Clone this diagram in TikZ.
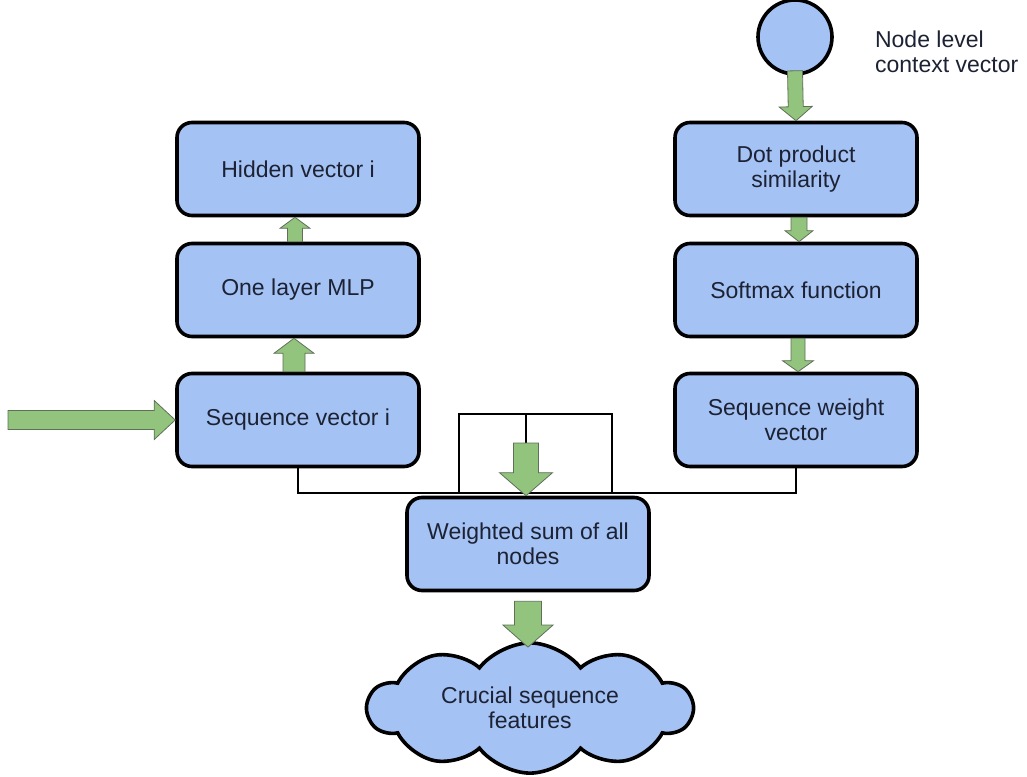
\documentclass[tikz,border=0pt]{standalone}
\usepackage{fontspec}
\setmainfont{Liberation Sans}
\usetikzlibrary{calc,shapes.symbols}
\definecolor{boxblue}{HTML}{A4C2F4}
\definecolor{arrowgreen}{HTML}{93C47D}
\definecolor{arrowrim}{HTML}{5F6F58}
\definecolor{inktext}{HTML}{1C2233}
% fat block arrow: from, to, shaft half width, head half width, head length
\newcommand{\blockarrow}[5]{%
  \coordinate (ba-h) at ($(#2)!#5!(#1)$);
  \filldraw[fatarrow] ($(#1)!#3!90:(#2)$) -- ($(ba-h)!#3!90:(#2)$)
    -- ($(ba-h)!#4!90:(#2)$) -- (#2) -- ($(ba-h)!#4!-90:(#2)$)
    -- ($(ba-h)!#3!-90:(#2)$) -- ($(#1)!#3!-90:(#2)$) -- cycle;
}

\begin{document}
\begin{tikzpicture}[x=0.5pt,y=-0.5pt,font=\fontsize{11.5}{12.5}\selectfont,
  block/.style={draw=black,line width=1.8pt,fill=boxblue,rounded corners=7.5pt,
    minimum width=121pt,minimum height=46.5pt,align=center,text=inktext,inner sep=2pt},
  fatarrow/.style={fill=arrowgreen,draw=arrowrim,line width=0.4pt,line join=miter},
  link/.style={draw=black,line width=1.2pt}]
  \useasboundingbox (0,0) rectangle (1027,776);

  % Left column: sequence encoding.
  \node[block] (hidden) at (298,169) {Hidden vector i};
  \node[block] (mlp) at (298,290) {One layer MLP};
  \node[block] (seq) at (298,420) {Sequence vector i};

  % Right column: attention weights.
  \node[draw=black,line width=1.8pt,fill=boxblue,circle,minimum size=37pt,inner sep=0pt] (ctx) at (795,37) {};
  \node[anchor=west,align=left,text=inktext] (ctxlabel) at (868,52) {Node level\\context vector};
  \node[block] (dot) at (796,169) {Dot product\\similarity};
  \node[block] (softmax) at (796,290) {Softmax function};
  \node[block] (seqw) at (796,420) {Sequence weight\\vector};

  % Merge and output.
  \node[block] (wsum) at (528,544) {Weighted sum of all\\nodes};
  \node[cloud,cloud puffs=10,cloud puff arc=105,aspect=2.6,draw=black,line width=1.8pt,
    fill=boxblue,minimum width=162pt,minimum height=62pt,align=center,text=inktext,inner sep=0pt]
    (crucial) at (530,708) {Crucial sequence\\features};

  % Black combining lines.
  \coordinate (join) at (528,493);
  \coordinate (bkl) at (459,493);
  \coordinate (bkr) at (612,493);
  \coordinate (bkt) at (526,414);
  \coordinate (feed) at (526,443);
  \draw[link] (seq.south) -- (seq.south |- join) -- (seqw.south |- join) -- (seqw.south);
  \draw[link] (bkl) |- (bkt) -| (bkr);
  \draw[link] (bkt) -- (feed);

  % Green block arrows.
  \coordinate (input) at (8,420);
  \blockarrow{input}{seq.west}{4.75pt}{9.75pt}{10.5pt}
  \blockarrow{$(seq.north)+(-4,0)$}{$(mlp.south)+(-4,0)$}{5.5pt}{10pt}{7.5pt}
  \blockarrow{$(mlp.north)+(-3,0)$}{$(hidden.south)+(-3,0)$}{3.75pt}{7.5pt}{5.5pt}
  \blockarrow{$(ctx.south)+(0,-5)$}{dot.north}{3.75pt}{8.25pt}{7pt}
  \blockarrow{$(dot.south)+(3,0)$}{$(softmax.north)+(3,0)$}{4pt}{7pt}{5.5pt}
  \blockarrow{$(softmax.south)+(2,0)$}{$(seqw.north)+(2,0)$}{3.5pt}{7.75pt}{5.5pt}
  \blockarrow{feed}{$(wsum.north)+(-2,0)$}{6.25pt}{13.25pt}{11.5pt}
  \blockarrow{$(wsum.south)+(0,9)$}{$(crucial.north)+(-2,6)$}{6.75pt}{12.5pt}{11pt}
\end{tikzpicture}
\end{document}
